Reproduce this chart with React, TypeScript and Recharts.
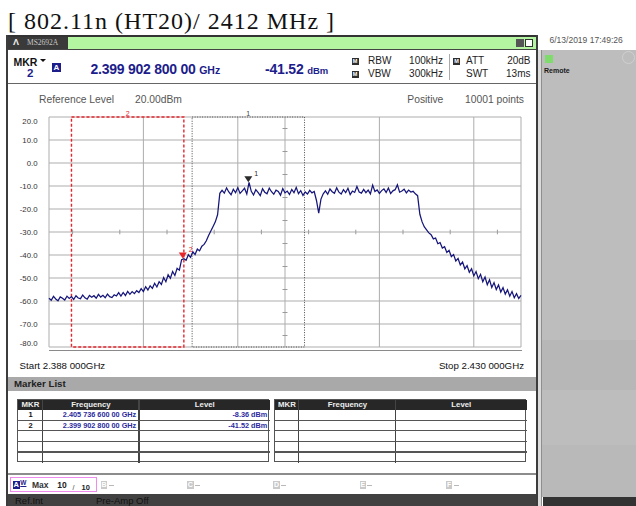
import React from 'react';
import { LineChart, Line, XAxis, YAxis, CartesianGrid, ReferenceArea, ReferenceDot, ReferenceLine } from 'recharts';

// sweep 2388 -> 2430 MHz, one reading every 0.2 MHz, levels in dBm
const SWEEP_START = 2388;
const SWEEP_STEP = 0.2;

const traceLevels = [
  -58.8, -59.7, -58.0, -59.1, -59.9, -58.2, -58.8, -59.6, -57.9, -58.9,
  -58.1, -59.3, -57.7, -58.7, -59.0, -57.4, -58.6, -59.2, -57.6, -58.4,
  -57.7, -58.8, -57.1, -58.3, -57.5, -58.6, -57.0, -58.1, -58.5, -57.3,
  -57.8, -56.4, -57.9, -56.3, -57.6, -55.8, -57.1, -55.9, -56.8, -55.5,
  -56.3, -54.6, -55.9, -53.8, -55.2, -53.4, -54.5, -52.3, -53.9, -51.6,
  -52.8, -49.8, -51.6, -48.6, -50.1, -47.2, -48.9, -45.8, -46.6, -42.0,
  -41.6, -42.3, -39.9, -41.0, -38.6, -39.8, -37.4, -38.2, -36.2, -35.4,
  -33.8, -31.5, -29.6, -27.6, -25.6, -22.5, -13.2, -11.9, -13.1, -10.8,
  -12.6, -13.8, -11.4, -12.9, -10.7, -13.2, -12.1, -11.0, -13.5, -8.4,
  -12.3, -13.9, -11.6, -12.8, -14.2, -11.2, -12.7, -13.4, -10.9, -12.5,
  -13.6, -11.8, -12.4, -14.0, -11.1, -13.0, -12.2, -13.7, -11.5, -12.9,
  -10.6, -13.3, -12.0, -14.1, -12.6, -13.5, -11.9, -13.0, -12.4, -16.3,
  -21.8, -15.7, -13.4, -12.1, -13.6, -11.3, -12.5, -13.2, -10.8, -12.7,
  -13.5, -11.6, -12.9, -11.0, -13.7, -12.2, -12.8, -10.2, -12.6, -13.1,
  -11.5, -12.9, -11.8, -13.4, -9.6, -12.4, -11.7, -13.2, -12.0, -11.3,
  -12.8, -10.9, -13.3, -12.1, -11.6, -9.5, -12.7, -12.2, -11.4, -13.0,
  -11.8, -12.6, -12.3, -13.4, -14.2, -22.3, -25.6, -27.8, -29.1, -30.4,
  -31.2, -33.0, -32.6, -35.1, -34.6, -37.0, -36.4, -38.9, -38.0, -40.7,
  -39.8, -42.6, -41.5, -44.3, -43.1, -46.0, -44.6, -47.5, -46.0, -49.1,
  -47.2, -50.3, -48.4, -51.6, -49.6, -52.9, -50.8, -54.1, -52.0, -55.0,
  -53.0, -56.1, -54.2, -57.0, -55.1, -57.9, -55.9, -58.6, -56.8, -58.9,
  -57.6,
];

const freqTicks = [2388, 2392.2, 2396.4, 2400.6, 2404.8, 2409, 2413.2, 2417.4, 2421.6, 2425.8, 2430];
const levelTicks = [20, 10, 0, -10, -20, -30, -40, -50, -60, -70, -80];

const markerIds = ['1', '2'];
const markerFreqs = [2405.7366, 2399.9028];
const markerLevels = [-8.36, -41.52];
const markerFreqText = ['2.405 736 600 00 GHz', '2.399 902 800 00 GHz'];
const markerLevelText = ['-8.36 dBm', '-41.52 dBm'];
const markerColors = ['#2a2a2a', '#e8242b'];

// search zones [from, to] in MHz
const zone1 = [2400.7366, 2410.7366];
const zone2 = [2390, 2400];

const otherTraces = ['B', 'C', 'D', 'E', 'F'];

const FONT = '"Liberation Sans", Arial, Helvetica, sans-serif';
const NAVY = '#1d1d8c';

const traceData = traceLevels.map((level, i) => ({
  freq: Math.round((SWEEP_START + i * SWEEP_STEP) * 10) / 10,
  level,
}));

// text placed by its baseline
const Txt = ({ x, base, size, color = '#222', bold = false, end = false, children, style = {} }: any) => (
  <div
    style={{
      position: 'absolute',
      left: x,
      top: base - 0.85 * size,
      fontSize: size,
      lineHeight: `${size}px`,
      color,
      fontWeight: bold ? 'bold' : 'normal',
      whiteSpace: 'nowrap',
      transform: end ? 'translateX(-100%)' : undefined,
      ...style,
    }}
  >
    {children}
  </div>
);

const Box = ({ x, y, w, h, bg, style = {} }: any) => (
  <div style={{ position: 'absolute', left: x, top: y, width: w, height: h, background: bg, ...style }} />
);

const LevelTick = (props: any) => {
  const { x, y, payload } = props;
  const v = payload.value;
  const dy = v === 20 ? 7 : v === -80 ? -1.5 : 3;
  return (
    <text x={x} y={y + dy} textAnchor="end" fontSize={7.8} fill="#333" fontFamily={FONT}>
      {v.toFixed(1)}
    </text>
  );
};

const MarkerFlag = ({ cx, cy, color, name }: any) => (
  <g>
    <path d={`M${cx - 4},${cy - 6} L${cx + 4},${cy - 6} L${cx},${cy} Z`} fill={color} />
    <text x={cx + 6} y={cy - 6} fontSize={7} fill={color} fontFamily={FONT}>
      {name}
    </text>
  </g>
);

const colW = [24.4, 96.6, 131];
const rowH = 10.6;

const MarkerTable = ({ left, rows }: any) => {
  const top = 399.3;
  const headH = 9.7;
  const xs = [0, colW[0], colW[0] + colW[1], colW[0] + colW[1] + colW[2]];
  const heads = ['MKR', 'Frequency', 'Level'];
  return (
    <div style={{ position: 'absolute', left, top, width: xs[3], height: headH + rowH * 5, border: '1px solid #555', boxSizing: 'border-box' }}>
      <Box x={0} y={0} w={xs[3]} h={headH} bg="#272727" />
      {heads.map((h, i) => (
        <div key={h} style={{ position: 'absolute', left: xs[i], top: 0, width: colW[i], height: headH, lineHeight: `${headH}px`, textAlign: 'center', color: '#eee', fontSize: 7.8, fontWeight: 'bold' }}>
          {h}
        </div>
      ))}
      {[1, 2].map((c) => (
        <Box key={c} x={xs[c] - 1} y={0} w={1.3} h={headH + rowH * 5} bg="#444" />
      ))}
      {[0, 1, 2, 3].map((r) => (
        <Box key={r} x={0} y={headH + rowH * (r + 1) - 1} w={xs[3]} h={1.2} bg="#555" />
      ))}
      {rows.map((row: any, r: number) => (
        <React.Fragment key={r}>
          <div style={{ position: 'absolute', left: 0, top: headH + rowH * r, width: colW[0], lineHeight: `${rowH}px`, textAlign: 'center', fontSize: 7.5, fontWeight: 'bold', color: '#111' }}>
            {row.id}
          </div>
          <div style={{ position: 'absolute', left: xs[1], top: headH + rowH * r, width: colW[1] - 3, lineHeight: `${rowH}px`, textAlign: 'right', fontSize: 7.3, fontWeight: 'bold', color: '#2b2ba0' }}>
            {row.freq}
          </div>
          <div style={{ position: 'absolute', left: xs[2], top: headH + rowH * r, width: colW[2] - 3, lineHeight: `${rowH}px`, textAlign: 'right', fontSize: 7.3, fontWeight: 'bold', color: '#2b2ba0' }}>
            {row.level}
          </div>
        </React.Fragment>
      ))}
    </div>
  );
};

const SmallIcon = ({ x, y }: any) => (
  <div style={{ position: 'absolute', left: x, top: y, width: 7, height: 7, background: '#2e2e2e', color: '#fff', fontSize: 5.5, lineHeight: '7px', textAlign: 'center', fontWeight: 'bold' }}>M</div>
);

export default function App() {
  const tableRows = markerIds.map((id, i) => ({ id, freq: markerFreqText[i], level: markerLevelText[i] }));
  const hTickMarks = freqTicks.slice(0, -1).map((f, i) => (f + freqTicks[i + 1]) / 2);
  const vTickMarks = levelTicks.slice(0, -1).map((v, i) => (v + levelTicks[i + 1]) / 2);

  return (
    <div style={{ position: 'absolute', left: 0, top: 0, width: 636, height: 506, overflow: 'hidden', background: '#fff', fontFamily: FONT }}>
      {/* page title */}
      <div style={{ position: 'absolute', left: 8, top: 9, fontFamily: '"Liberation Serif", "Times New Roman", serif', fontSize: 24, lineHeight: '24px', letterSpacing: 1, color: '#111', whiteSpace: 'nowrap' }}>
        [ 802.11n (HT20)/ 2412 MHz ]
      </div>

      {/* instrument window frame */}
      <Box x={6} y={35} w={532} h={1.5} bg="#333" />
      <Box x={6} y={35} w={2} h={471} bg="#3c3c3c" />
      <Box x={536} y={35} w={2} h={471} bg="#3c3c3c" />

      {/* title bar */}
      <Box x={8} y={36.5} w={60} h={12.5} bg="#3a3a3a" />
      <Box x={68} y={36.5} w={468} h={12.5} bg="#b3f5a1" />
      <Txt x={13} base={46} size={9} color="#eee" bold>Λ</Txt>
      <Txt x={27} base={45.5} size={7.5} color="#c8c8c8" style={{ fontFamily: '"Liberation Serif", serif' }}>MS2692A</Txt>
      <Box x={516} y={39} w={8} h={8} bg="#555" />
      <Box x={524.5} y={39} w={8} h={8} bg="#fff" style={{ border: '1.5px solid #333', boxSizing: 'border-box' }} />
      <Box x={8} y={49} w={528} h={1} bg="#444" />

      {/* marker readout header */}
      <Txt x={13.5} base={65.7} size={10.5} color="#111" bold>MKR</Txt>
      <div style={{ position: 'absolute', left: 40, top: 59, width: 0, height: 0, borderLeft: '3px solid transparent', borderRight: '3px solid transparent', borderTop: '3.5px solid #111' }} />
      <Txt x={27} base={77.3} size={11.5} color={NAVY} bold>2</Txt>
      <div style={{ position: 'absolute', left: 52, top: 63, width: 9, height: 9, background: NAVY, color: '#fff', fontSize: 8, lineHeight: '9px', textAlign: 'center', fontWeight: 'bold' }}>A</div>
      <Txt x={90.5} base={74} size={14} color={NAVY} bold style={{ letterSpacing: -0.25 }}>
        2.399 902 800 00 <span style={{ fontSize: 10.5, letterSpacing: 0 }}>GHz</span>
      </Txt>
      <Txt x={265} base={74} size={14} color={NAVY} bold style={{ letterSpacing: -0.2 }}>
        -41.52 <span style={{ fontSize: 9.5, letterSpacing: 0 }}>dBm</span>
      </Txt>
      <SmallIcon x={351.5} y={57.5} />
      <SmallIcon x={351.5} y={70.5} />
      <SmallIcon x={453} y={57.5} />
      <Txt x={368} base={64.3} size={10}>RBW</Txt>
      <Txt x={443} base={64.3} size={10} end>100kHz</Txt>
      <Txt x={368} base={77.3} size={10}>VBW</Txt>
      <Txt x={443} base={77.3} size={10} end>300kHz</Txt>
      <Box x={449} y={54} w={1} h={26} bg="#aaa" />
      <Txt x={466} base={64.3} size={10}>ATT</Txt>
      <Txt x={530.5} base={64.3} size={10} end>20dB</Txt>
      <Txt x={466} base={77.3} size={10}>SWT</Txt>
      <Txt x={530.5} base={77.3} size={10} end>13ms</Txt>
      <Box x={8} y={83} w={528} h={1.2} bg="#666" />

      {/* trace settings line */}
      <Txt x={39} base={103.3} size={10.3} color="#555">Reference Level</Txt>
      <Txt x={135} base={103.3} size={10.3} color="#555">20.00dBm</Txt>
      <Txt x={407.3} base={103.3} size={10.3} color="#555">Positive</Txt>
      <Txt x={524} base={103.3} size={10.3} color="#555" end>10001 points</Txt>

      {/* spectrum */}
      <div style={{ position: 'absolute', left: 0, top: 100 }}>
        <LineChart width={540} height={262} data={traceData} margin={{ top: 17, right: 19, bottom: 15, left: 8 }}>
          <CartesianGrid stroke="#adadad" strokeWidth={1} />
          <XAxis dataKey="freq" type="number" domain={[2388, 2430]} ticks={freqTicks} hide />
          <YAxis
            type="number"
            domain={[-80, 20]}
            ticks={levelTicks}
            interval={0}
            width={41}
            axisLine={false}
            tickLine={false}
            tickSize={6}
            tickMargin={5.5}
            tick={<LevelTick />}
          />
          {hTickMarks.map((f) => (
            <ReferenceLine key={`h${f}`} segment={[{ x: f, y: -29 }, { x: f, y: -31 }]} stroke="#9a9a9a" />
          ))}
          {vTickMarks.map((v) => (
            <ReferenceLine key={`v${v}`} segment={[{ x: 2408.78, y: v }, { x: 2409.22, y: v }]} stroke="#9a9a9a" />
          ))}
          <ReferenceArea
            x1={zone2[0]}
            x2={zone2[1]}
            y1={-80}
            y2={20}
            stroke="#e8242b"
            strokeWidth={1.4}
            strokeDasharray="3 2"
            fill="none"
            label={{ value: '2', position: 'top', fill: '#e8242b', fontSize: 7, offset: 1 }}
          />
          <ReferenceArea
            x1={zone1[0]}
            x2={zone1[1]}
            y1={-80}
            y2={20}
            stroke="#4a4a4a"
            strokeWidth={1}
            strokeDasharray="1 1.5"
            fill="none"
            label={{ value: '1', position: 'top', fill: '#444', fontSize: 7, offset: 1 }}
          />
          <Line type="linear" dataKey="level" stroke="#16167a" strokeWidth={1.25} dot={false} isAnimationActive={false} />
          {markerIds.map((id, i) => (
            <ReferenceDot
              key={id}
              x={markerFreqs[i]}
              y={markerLevels[i]}
              r={0}
              shape={(p: any) => <MarkerFlag cx={p.cx} cy={p.cy} color={markerColors[i]} name={id} />}
            />
          ))}
        </LineChart>
      </div>
      <Box x={49} y={349.5} w={473} h={1.5} bg="#8a8a8a" />
      <Txt x={19.6} base={369.5} size={9.7} color="#111">Start 2.388 000GHz</Txt>
      <Txt x={524} base={369.5} size={9.7} color="#111" end>Stop 2.430 000GHz</Txt>

      {/* marker list */}
      <Box x={8} y={377.3} w={528} h={13.4} bg="#a9a9a9" />
      <Txt x={14} base={387.5} size={9.7} color="#222" bold>Marker List</Txt>
      <MarkerTable left={17.3} rows={tableRows} />
      <MarkerTable left={273.8} rows={[]} />
      <Box x={8} y={472.5} w={528} h={2} bg="#8c8c8c" />

      {/* trace selector */}
      <div style={{ position: 'absolute', left: 10, top: 476.7, width: 86.7, height: 15, border: '1px solid #ef8bef', boxSizing: 'border-box' }} />
      <div style={{ position: 'absolute', left: 12.7, top: 481, width: 7, height: 8, background: NAVY, color: '#fff', fontSize: 7.5, lineHeight: '8px', textAlign: 'center', fontWeight: 'bold' }}>A</div>
      <Txt x={20.3} base={486} size={6.5} color={NAVY} bold style={{ textDecoration: 'underline' }}>W</Txt>
      <Txt x={32} base={488.3} size={8.5} color="#333" bold>Max</Txt>
      <Txt x={57.3} base={488.3} size={8.5} color="#222" bold>10</Txt>
      <Txt x={72.5} base={490} size={7} color="#333">/</Txt>
      <Txt x={81.5} base={490.5} size={7.5} color="#222" bold>10</Txt>
      {otherTraces.map((t, i) => (
        <React.Fragment key={t}>
          <div style={{ position: 'absolute', left: 100.7 + 86.3 * i, top: 481, width: 6.5, height: 8, background: '#c9c9c9', color: '#fff', fontSize: 7, lineHeight: '8px', textAlign: 'center', fontWeight: 'bold' }}>{t}</div>
          <Box x={108.5 + 86.3 * i} y={484.5} w={5} h={1} bg="#b8b8b8" />
        </React.Fragment>
      ))}

      {/* status bar */}
      <Box x={8} y={494} w={528} h={12} bg="#414141" />
      <Txt x={15} base={504.5} size={9.5} color="#111">Ref.Int</Txt>
      <Txt x={96} base={504.5} size={9.5} color="#111">Pre-Amp Off</Txt>

      {/* side panel */}
      <Txt x={549.5} base={43.3} size={8.5} color="#555">6/13/2019 17:49:26</Txt>
      <Box x={538} y={50} w={2.5} h={456} bg="#dcdcdc" />
      <Box x={540.5} y={50} w={1} h={456} bg="#8e8e8e" />
      <Box x={541.5} y={50} w={95} h={447} bg="#bdbdbd" />
      <Box x={541.5} y={340} w={95} h={50} bg="#b7b7b7" />
      <Box x={541.5} y={445} w={95} h={52} bg="#b9b9b9" />
      <div style={{ position: 'absolute', left: 622, top: 51, width: 13, height: 13, borderRadius: '50%', border: '1px solid #d0d0d0', boxSizing: 'border-box' }} />
      <Box x={544.5} y={55} w={8} h={7.5} bg="#7fdc6c" />
      <Txt x={544} base={73} size={7} color="#1a1a1a" bold>Remote</Txt>
      <Box x={543} y={497} w={93} h={9} bg="#333" />
    </div>
  );
}
